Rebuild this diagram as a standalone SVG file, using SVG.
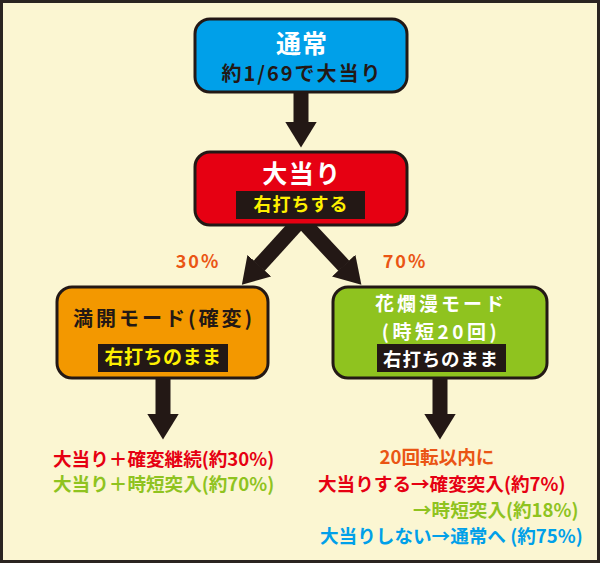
<svg xmlns="http://www.w3.org/2000/svg" width="600" height="563" viewBox="0 0 600 563">
<style>
text{font-family:"Noto Sans CJK JP","Noto Sans",sans-serif;font-weight:bold}
.box{stroke:#231815;stroke-width:3}
.bar{fill:#231815}
.c{text-anchor:middle}
.res{font-size:18.6px}
.shaft{stroke:#231815;stroke-width:15;fill:none}
</style>
<defs>
<marker id="head" markerUnits="userSpaceOnUse" viewBox="0 0 26 32" markerWidth="26" markerHeight="32" refX="0.5" refY="16" orient="auto">
<path d="M0,0 L26,16 L0,32 z" fill="#231815"/>
</marker>
</defs>
<rect x="1.5" y="1.5" width="597" height="560" fill="#FBF6D2" stroke="#2A2420" stroke-width="3"/>

<g id="connectors">
<line class="shaft" x1="301" y1="90" x2="301" y2="122" marker-end="url(#head)"/>
<line class="shaft" x1="299" y1="222" x2="259" y2="266" marker-end="url(#head)"/>
<line class="shaft" x1="303" y1="222" x2="344" y2="266" marker-end="url(#head)"/>
<line class="shaft" x1="163" y1="376" x2="163" y2="414" marker-end="url(#head)"/>
<line class="shaft" x1="440" y1="376" x2="440" y2="414" marker-end="url(#head)"/>
</g>

<g id="node-normal">
<rect class="box" x="195" y="19" width="212" height="73" rx="15" fill="#00A0E9"/>
<text class="c" x="302" y="53" font-size="25" fill="#FFFFFF" letter-spacing="1">通常</text>
<text class="c" x="302" y="81" font-size="20" fill="#231815" letter-spacing="2">約1/69で大当り</text>
</g>

<g id="node-jackpot">
<rect class="box" x="195" y="152" width="212" height="73" rx="15" fill="#E60012"/>
<text class="c" x="302" y="183" font-size="25" fill="#FFFFFF" letter-spacing="1.5">大当り</text>
<rect class="bar" x="236" y="191" width="129" height="28"/>
<text class="c" x="301" y="211" font-size="18" fill="#FFF100" letter-spacing="1">右打ちする</text>
</g>

<g id="label-30">
<text class="c" x="198" y="268" font-size="18" fill="#EA5514" font-weight="normal" letter-spacing="2">30%</text>
</g>
<g id="label-70">
<text class="c" x="405" y="268" font-size="18" fill="#EA5514" font-weight="normal" letter-spacing="2">70%</text>
</g>

<g id="node-kakuhen">
<rect class="box" x="57" y="287" width="211" height="91" rx="15" fill="#F39800"/>
<text class="c" x="164" y="326" font-size="20" fill="#231815" letter-spacing="3">満開モード(確変)</text>
<rect class="bar" x="98" y="344" width="130" height="28"/>
<text class="c" x="163" y="364" font-size="19" fill="#FFF100" letter-spacing="0.5">右打ちのまま</text>
</g>

<g id="node-jitan">
<rect class="box" x="333" y="287" width="214" height="91" rx="15" fill="#8FC31F"/>
<text class="c" x="441" y="311" font-size="19" fill="#FFFFFF" letter-spacing="3">花爛漫モード</text>
<text class="c" x="441" y="338.6" font-size="19" fill="#FFFFFF" letter-spacing="3.5">(時短20回)</text>
<rect class="bar" x="377" y="344" width="129" height="28"/>
<text class="c" x="441" y="366" font-size="18.5" fill="#FFFFFF" letter-spacing="0.8">右打ちのまま</text>
</g>

<g id="result-left">
<text class="res" x="53" y="466" fill="#E60012">大当り＋確変継続(約30%)</text>
<text class="res" x="53" y="491" fill="#8FC31F">大当り＋時短突入(約70%)</text>
</g>

<g id="result-right">
<text class="res c" x="437" y="464" fill="#EA5514">20回転以内に</text>
<text class="res" x="318" y="491" fill="#E60012">大当りする→確変突入(約7%)</text>
<text class="res" x="413" y="517" fill="#8FC31F">→時短突入(約18%)</text>
<text class="res" x="320" y="543" fill="#00A0E9">大当りしない→通常へ (約75%)</text>
</g>
</svg>
